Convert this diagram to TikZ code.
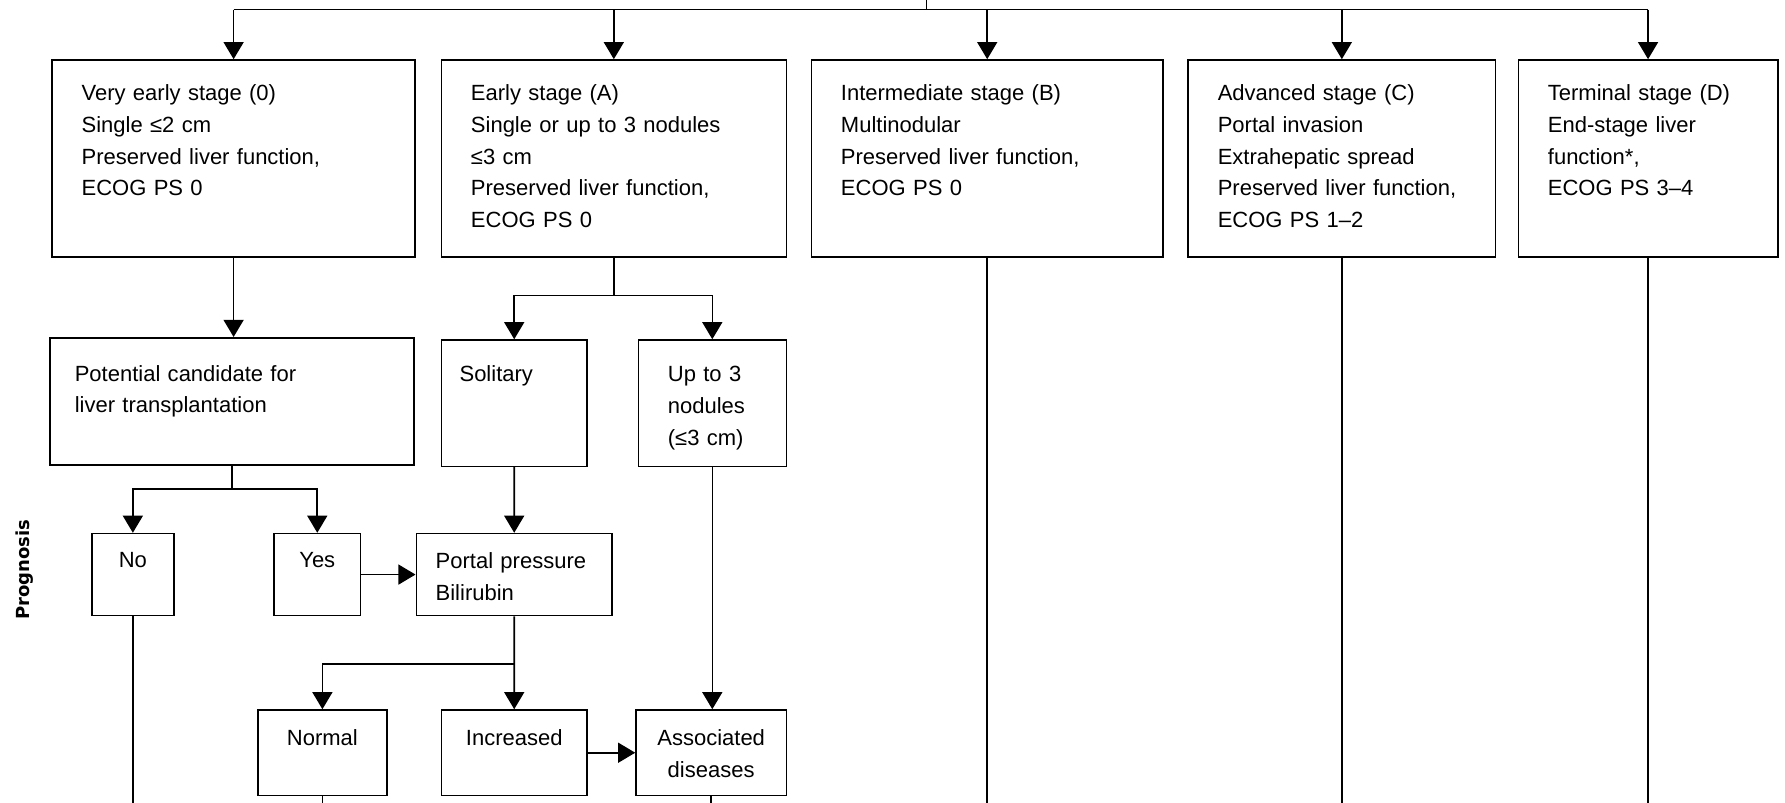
\documentclass[tikz,border=0pt]{standalone}
\usepackage{fontspec}
\setmainfont{Liberation Sans}
\newfontfamily\progfont{DejaVu Sans}
\usetikzlibrary{arrows.meta,positioning,calc}

\tikzset{
  stagebox/.style={draw, line width=0.8pt, anchor=north west, inner xsep=0.52cm, inner ysep=0pt, align=left},
  smallbox/.style={draw, line width=0.8pt, anchor=north west, inner xsep=0.2cm, inner ysep=0pt, align=center},
}

\begin{document}
\begin{tikzpicture}[font=\fontsize{11}{15.8}\selectfont, line width=0.8pt, >={Triangle[width=0.35cm,length=0.3cm]}]
\useasboundingbox (0,0) rectangle (31.36,-14.1);

% stages
\node[stagebox, text width=5.34cm, text height=0.72cm, text depth=2.74cm] (s0) at (0.9,-1.04)
  {Very early stage (0)\\Single ≤2 cm\\Preserved liver function,\\ECOG PS 0};
\node[stagebox, text width=5.02cm, text height=0.72cm, text depth=2.74cm] (sA) at (7.74,-1.04)
  {Early stage (A)\\Single or up to 3 nodules\\≤3 cm\\Preserved liver function,\\ECOG PS 0};
\node[stagebox, text width=5.14cm, text height=0.72cm, text depth=2.74cm] (sB) at (14.24,-1.04)
  {Intermediate stage (B)\\Multinodular\\Preserved liver function,\\ECOG PS 0};
\node[stagebox, text width=4.36cm, text height=0.72cm, text depth=2.74cm] (sC) at (20.86,-1.04)
  {Advanced stage (C)\\Portal invasion\\Extrahepatic spread\\Preserved liver function,\\ECOG PS 1–2};
\node[stagebox, text width=3.52cm, text height=0.72cm, text depth=2.74cm] (sD) at (26.66,-1.04)
  {Terminal stage (D)\\End-stage liver\\function*,\\ECOG PS 3–4};

% second row
\node[stagebox, inner xsep=0.44cm, text width=5.52cm, text height=0.76cm, text depth=1.48cm] (pot) at (0.86,-5.92)
  {Potential candidate for\\liver transplantation};
\node[stagebox, inner xsep=0.32cm, text width=1.92cm, text height=0.72cm, text depth=1.5cm] (sol) at (7.74,-5.96)
  {Solitary};
\node[stagebox, text width=1.56cm, text height=0.72cm, text depth=1.5cm, font=\fontsize{11}{16.2}\selectfont] (up3) at (11.2,-5.96)
  {Up to 3\\nodules\\(≤3 cm)};

% third row
\node[smallbox, text width=1.04cm, text height=0.6cm, text depth=0.84cm] (no) at (1.6,-9.36) {No};
\node[smallbox, text width=1.12cm, text height=0.6cm, text depth=0.84cm] (yes) at (4.8,-9.36) {Yes};
\node[stagebox, inner xsep=0.34cm, text width=2.76cm, text height=0.62cm, text depth=0.82cm] (portal) at (7.3,-9.36)
  {Portal pressure\\Bilirubin};

% fourth row
\node[smallbox, text width=1.86cm, text height=0.63cm, text depth=0.87cm] (normal) at (4.52,-12.46) {Normal};
\node[smallbox, text width=2.16cm, text height=0.63cm, text depth=0.87cm] (incr) at (7.74,-12.46) {Increased};
\node[smallbox, text width=2.24cm, text height=0.63cm, text depth=0.87cm] (assoc) at (11.16,-12.46) {Associated\\diseases};

\node[rotate=90, font=\progfont\bfseries\fontsize{9}{10}\selectfont] (prog) at (0.44,-10.01) {Prognosis};

% connectors
\coordinate (topend) at (16.28,0);
\coordinate (hub) at (16.28,-0.17);
\coordinate (bottom) at (0,-14.1);
\draw (topend) -- (hub);
\draw (s0.north |- hub) -- (sD.north |- hub);
\foreach \s in {s0,sA,sB,sC,sD}
  \draw[->] (\s.north |- hub) -- (\s.north);

\draw[->] (s0.south) -- (s0.south |- pot.north);

\coordinate (aSplit) at ($(sA.south)+(0,-0.66)$);
\draw (sA.south) -- (aSplit);
\draw[->] (aSplit) -| (sol.north);
\draw[->] (aSplit) -| (up3.north);

\coordinate (pSplit) at ($(pot.south)+(0,-0.4)$);
\draw (pot.south) -- (pSplit);
\draw[->] (pSplit) -| (no.north);
\draw[->] (pSplit) -| (yes.north);

\draw[->] (yes) -- (portal);
\draw[->] (sol) -- (portal);

\coordinate (bSplit) at ($(portal.south)+(0,-0.84)$);
\draw[->] (portal.south) -- (incr.north);
\draw[->] (bSplit) -| (normal.north);

\draw[->] (up3.south) -- (up3.south |- assoc.north);
\draw[->] (incr) -- (assoc);

\foreach \s in {no,normal,assoc,sB,sC,sD}
  \draw (\s.south) -- (\s.south |- bottom);
\end{tikzpicture}
\end{document}
